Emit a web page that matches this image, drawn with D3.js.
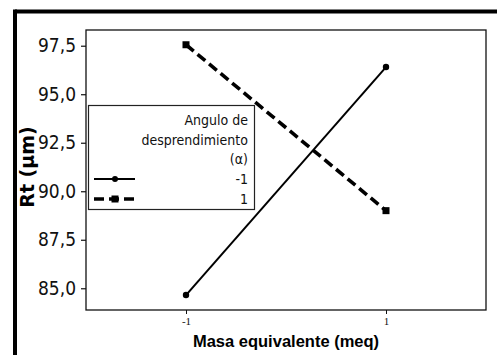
<!DOCTYPE html>
<html>
<head>
<meta charset="utf-8">
<script src="https://cdn.jsdelivr.net/npm/d3@7"></script>
<style>
  html, body { margin: 0; padding: 0; background: #fff; }
  svg { display: block; }
</style>
</head>
<body>
<svg id="chart" width="497" height="355"></svg>
<script>
// Interaction plot: Rt vs. equivalent mass for two levels of the rake angle
const xLevels = [-1, 1];
const xTickLabels = ["-1", "1"];
const seriesNames = ["-1", "1"];
const seriesMinus1 = [84.65, 96.4];   // angle level -1 (solid)
const seriesPlus1 = [97.55, 89.0];    // angle level 1 (dashed)
const yTicks = [85.0, 87.5, 90.0, 92.5, 95.0, 97.5];

const svg = d3.select("#chart");
const W = 497, H = 355;
const m = { left: 86, right: 486, top: 30, bottom: 310 };

const x = d3.scaleLinear().domain([-2, 2]).range([m.left, m.right]);
const y = d3.scaleLinear().domain([83.88, 98.31]).range([m.bottom, m.top]);

const fmt = v => d3.format(".1f")(v).replace(".", ",");
const condFont = "'DejaVu Sans Condensed', 'DejaVu Sans', sans-serif";

// outer heavy frame (top and left edges)
svg.append("line").attr("x1", 15).attr("x2", W).attr("y1", 11.5).attr("y2", 11.5)
  .attr("stroke", "#000").attr("stroke-width", 4);
svg.append("line").attr("x1", 15).attr("x2", 15).attr("y1", 9.5).attr("y2", H)
  .attr("stroke", "#000").attr("stroke-width", 4);

// plot frame
svg.append("rect").attr("x", m.left).attr("y", m.top)
  .attr("width", m.right - m.left).attr("height", m.bottom - m.top)
  .attr("fill", "none").attr("stroke", "#111").attr("stroke-width", 1.3);

// y axis
const yAxis = d3.axisLeft(y).tickValues(yTicks).tickFormat(fmt).tickSize(5).tickPadding(5);
const gy = svg.append("g").attr("transform", `translate(${m.left},0)`).call(yAxis);
gy.select(".domain").remove();
gy.selectAll("line").attr("stroke", "#111").attr("stroke-width", 1.2);
gy.selectAll("text").attr("font-family", condFont).attr("font-size", 19).attr("fill", "#111");

// x axis
const xAxis = d3.axisBottom(x).tickValues(xLevels)
  .tickFormat((d, i) => xTickLabels[i]).tickSize(4).tickPadding(3);
const gx = svg.append("g").attr("transform", `translate(0,${m.bottom})`).call(xAxis);
gx.select(".domain").remove();
gx.selectAll("line").attr("stroke", "#111").attr("stroke-width", 1);
gx.selectAll("text").attr("font-family", "'Liberation Serif', 'DejaVu Serif', serif")
  .attr("font-size", 11).attr("fill", "#111");

// axis titles
svg.append("text").attr("x", (m.left + m.right) / 2).attr("y", 347)
  .attr("text-anchor", "middle").attr("font-family", "'Liberation Sans', Arial, sans-serif")
  .attr("font-weight", "bold").attr("font-size", 16.5).attr("fill", "#000")
  .text("Masa equivalente (meq)");
svg.append("text").attr("transform", "translate(34,167) rotate(-90)")
  .attr("text-anchor", "middle").attr("font-family", "'DejaVu Sans', sans-serif")
  .attr("font-weight", "bold").attr("font-size", 19).attr("fill", "#000")
  .text("Rt (µm)");

// series
const line = d3.line().x((d, i) => x(xLevels[i])).y(d => y(d));
svg.append("path").datum(seriesMinus1).attr("d", line)
  .attr("fill", "none").attr("stroke", "#000").attr("stroke-width", 2);
svg.selectAll(".pt-a").data(seriesMinus1).join("circle")
  .attr("cx", (d, i) => x(xLevels[i])).attr("cy", d => y(d)).attr("r", 3.2).attr("fill", "#000");

svg.append("path").datum(seriesPlus1).attr("d", line)
  .attr("fill", "none").attr("stroke", "#000").attr("stroke-width", 3.6)
  .attr("stroke-dasharray", "10,5");
svg.selectAll(".pt-b").data(seriesPlus1).join("rect")
  .attr("x", (d, i) => x(xLevels[i]) - 3.5).attr("y", d => y(d) - 3.5)
  .attr("width", 7).attr("height", 7).attr("fill", "#000");

// legend
const lg = svg.append("g");
lg.append("rect").attr("x", 88.5).attr("y", 105.5).attr("width", 166).attr("height", 104)
  .attr("fill", "#fff").attr("stroke", "#222").attr("stroke-width", 1.2);
const lgTitle = ["Angulo de", "desprendimiento", "(α)"];
lg.selectAll(".lt").data(lgTitle).join("text")
  .attr("x", 248).attr("y", (d, i) => 125 + i * 19.5)
  .attr("text-anchor", "end").attr("font-family", condFont).attr("font-size", 14).attr("fill", "#111")
  .text(d => d);
lg.selectAll(".ln").data(seriesNames).join("text")
  .attr("x", 248).attr("y", (d, i) => 184 + i * 20)
  .attr("text-anchor", "end").attr("font-family", condFont).attr("font-size", 14).attr("fill", "#111")
  .text(d => d);
// legend samples
lg.append("line").attr("x1", 94).attr("x2", 135).attr("y1", 179).attr("y2", 179)
  .attr("stroke", "#000").attr("stroke-width", 2);
lg.append("circle").attr("cx", 115).attr("cy", 179).attr("r", 3).attr("fill", "#000");
lg.append("line").attr("x1", 94).attr("x2", 136).attr("y1", 199).attr("y2", 199)
  .attr("stroke", "#000").attr("stroke-width", 3.6).attr("stroke-dasharray", "10,5");
lg.append("rect").attr("x", 111.5).attr("y", 195.5).attr("width", 7).attr("height", 7).attr("fill", "#000");
</script>
</body>
</html>
